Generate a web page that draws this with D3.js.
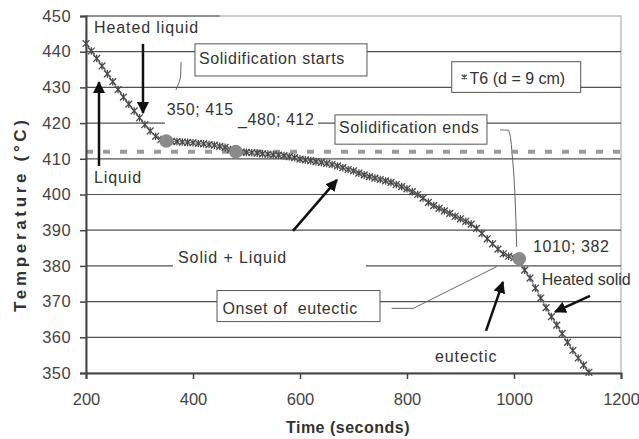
<!DOCTYPE html>
<html>
<head>
<meta charset="utf-8">
<script src="https://cdn.jsdelivr.net/npm/d3@7"></script>
<style>
  body { margin: 0; background: #fff; }
  text { font-family: "Liberation Sans", Arial, sans-serif; }
</style>
</head>
<body>
<svg id="chart" width="639" height="439"></svg>
<script>
// Cooling curve of thermocouple T6, time in seconds, temperature in °C
const timeSeconds = [
  200, 210, 220, 230, 240, 250, 260, 270, 280, 290,
  300, 310, 320, 330, 340, 350, 360, 370, 380, 390,
  400, 410, 420, 430, 440, 450, 460, 470, 480, 490,
  500, 510, 520, 530, 540, 550, 560, 570, 580, 590,
  600, 610, 620, 630, 640, 650, 660, 670, 680, 690,
  700, 710, 720, 730, 740, 750, 760, 770, 780, 790,
  800, 810, 820, 830, 840, 850, 860, 870, 880, 890,
  900, 910, 920, 930, 940, 950, 960, 970, 980, 990,
  1000, 1010, 1020, 1030, 1040, 1050, 1060, 1070, 1080, 1090,
  1100, 1110, 1120, 1130, 1140
];
const temperatureT6 = [
  442.3, 440.2, 438.1, 436.0, 433.8, 431.6, 429.4, 427.3, 425.3, 423.4,
  421.5, 419.6, 417.8, 416.3, 415.4, 415.0, 414.9, 414.8, 414.7, 414.6,
  414.5, 414.3, 414.2, 414.0, 413.8, 413.5, 413.2, 412.6, 412.0, 411.9,
  411.8, 411.7, 411.6, 411.4, 411.3, 411.1, 411.0, 410.9, 410.6, 410.3,
  409.9, 409.7, 409.5, 409.2, 409.0, 408.7, 408.4, 408.0, 407.5, 407.0,
  406.6, 406.0, 405.5, 405.0, 404.6, 404.2, 403.8, 403.4, 402.8, 402.2,
  401.6, 400.8, 400.0, 399.0, 397.8, 396.9, 396.1, 395.4, 394.7, 393.9,
  393.2, 392.5, 391.7, 390.5, 389.1, 387.6, 386.2, 384.7, 383.4, 382.7,
  382.3, 382.0, 378.8, 376.6, 373.8, 371.0, 368.3, 365.8, 363.4, 361.0,
  358.6, 356.3, 354.2, 352.2, 350.2
];
const seriesName = "T6 (d = 9 cm)";

// Marked points: start of solidification, plateau end, end of solidification
const keyTimes = [350, 480, 1010];
const keyTemps = [415, 412, 382];
const keyLabels = ["350; 415", "_480; 412", "1010; 382"];

// Liquidus level drawn as a dotted line
const liquidusTemp = 412;

const xTicks = [200, 400, 600, 800, 1000, 1200];
const yTicks = [350, 360, 370, 380, 390, 400, 410, 420, 430, 440, 450];

const width = 639, height = 439;
const svg = d3.select("#chart");
svg.append("rect").attr("width", width).attr("height", height).attr("fill", "#fff");

const x = d3.scaleLinear().domain([200, 1200]).range([86, 621]);
const y = d3.scaleLinear().domain([350, 450]).range([373, 16]);

const ink = "#333";
const grid = "#505050";
const spacing = "0.6px";

// plot frame
svg.append("rect")
  .attr("x", x(200)).attr("y", y(450))
  .attr("width", x(1200) - x(200)).attr("height", y(350) - y(450))
  .attr("fill", "none").attr("stroke", "#a0a0a0").attr("stroke-width", 1);

// horizontal gridlines
svg.append("g").selectAll("line")
  .data(yTicks.filter(v => v > 350 && v < 450))
  .join("line")
  .attr("x1", x(200)).attr("x2", x(1200))
  .attr("y1", d => y(d)).attr("y2", d => y(d))
  .attr("stroke", grid).attr("stroke-width", 1.2);
svg.append("line")
  .attr("x1", x(200)).attr("x2", x(450))
  .attr("y1", y(450)).attr("y2", y(450))
  .attr("stroke", grid).attr("stroke-width", 1.2);

// white backgrounds of labels, in data units
const backgrounds = [
  { t0: 347.7, t1: 480.4, v0: 425.5, v1: 418.2 },   // 350; 415
  { t0: 480.4, t1: 633.6, v0: 422.8, v1: 418.4 },   // 480; 412
  { t0: 362.6, t1: 723.4, v0: 384.0, v1: 379.2 }    // Solid + Liquid
];
svg.append("g").selectAll("rect")
  .data(backgrounds)
  .join("rect")
  .attr("x", d => x(d.t0)).attr("y", d => y(d.v0))
  .attr("width", d => x(d.t1) - x(d.t0)).attr("height", d => y(d.v1) - y(d.v0))
  .attr("fill", "#fff");

// boxed call-outs
const boxes = [
  { t0: 403.7, t1: 725.2, v0: 442.2, v1: 433.2, text: "Solidification starts", tt: 411, tv: 436.6 },
  { t0: 665.4, t1: 949.5, v0: 422.3, v1: 414.1, text: "Solidification ends", tt: 673, tv: 417.3 },
  { t0: 444.9, t1: 749.5, v0: 373.1, v1: 364.4, text: "Onset of  eutectic", tt: 455, tv: 366.6 }
];
const boxG = svg.append("g");
boxG.selectAll("rect")
  .data(boxes)
  .join("rect")
  .attr("x", d => x(d.t0)).attr("y", d => y(d.v0))
  .attr("width", d => x(d.t1) - x(d.t0)).attr("height", d => y(d.v1) - y(d.v0))
  .attr("fill", "#fff").attr("stroke", "#555").attr("stroke-width", 1);
boxG.selectAll("text")
  .data(boxes)
  .join("text")
  .attr("x", d => x(d.tt)).attr("y", d => y(d.tv))
  .attr("font-size", 16).attr("fill", ink)
  .attr("letter-spacing", spacing)
  .style("white-space", "pre")
  .text(d => d.text);

// legend
const legend = { t0: 883.6, t1: 1124.7, v0: 437.2, v1: 428.6 };
svg.append("rect")
  .attr("x", x(legend.t0)).attr("y", y(legend.v0))
  .attr("width", x(legend.t1) - x(legend.t0)).attr("height", y(legend.v1) - y(legend.v0))
  .attr("fill", "#fff").attr("stroke", "#555").attr("stroke-width", 1);

// leader lines
const leaders = [
  [[377.6, 437.1], [377.0, 433.5], [368.0, 429.3]],
  [[973.8, 418.1], [990.0, 418.0], [995.0, 414.0], [1005.0, 385.3]],
  [[771.4, 368.1], [811.8, 368.1], [967.7, 379.8]]
];
const leaderLine = d3.line().x(d => x(d[0])).y(d => y(d[1])).curve(d3.curveMonotoneY);
svg.append("g").selectAll("path")
  .data(leaders)
  .join("path")
  .attr("d", (d, i) => i === 2 ? d3.line().x(p => x(p[0])).y(p => y(p[1]))(d) : leaderLine(d))
  .attr("fill", "none").attr("stroke", "#666").attr("stroke-width", 1);

// liquidus dotted line
svg.append("line")
  .attr("x1", x(200)).attr("x2", x(1212))
  .attr("y1", y(liquidusTemp)).attr("y2", y(liquidusTemp))
  .attr("stroke", "#9a9a9a").attr("stroke-width", 4)
  .attr("stroke-dasharray", "7,10");

// axes
const yAxis = svg.append("g")
  .attr("transform", `translate(${x(200)},0)`)
  .call(d3.axisLeft(y).tickValues(yTicks).tickSize(6).tickPadding(9).tickFormat(d3.format("d")));
const xAxis = svg.append("g")
  .attr("transform", `translate(0,${y(350)})`)
  .call(d3.axisBottom(x).tickValues(xTicks).tickSize(6).tickPadding(14).tickFormat(d3.format("d")));
[yAxis, xAxis].forEach(g => {
  g.select(".domain").attr("stroke", "#444").attr("stroke-width", 2);
  g.selectAll(".tick line").attr("stroke", "#444").attr("stroke-width", 1.5);
  g.selectAll(".tick text")
    .attr("font-family", "'Liberation Sans', Arial, sans-serif")
    .attr("font-size", 16.5).attr("fill", "#444");
});
yAxis.selectAll(".tick text").attr("letter-spacing", "0.4px");

// the cooling curve
const series = timeSeconds.map((t, i) => ({ t, v: temperatureT6[i] }));
svg.append("path")
  .datum(series)
  .attr("d", d3.line().x(d => x(d.t)).y(d => y(d.v)))
  .attr("fill", "none").attr("stroke", "#808080").attr("stroke-width", 1.2);

const starPath = "M-3.4,-3.4L3.4,3.4M-3.4,3.4L3.4,-3.4M0,-3.8L0,3.8";
svg.append("g").selectAll("path")
  .data(series)
  .join("path")
  .attr("transform", d => `translate(${x(d.t)},${y(d.v)})`)
  .attr("d", starPath)
  .attr("fill", "none").attr("stroke", "#4a4a4a").attr("stroke-width", 1.3);

// key points
svg.append("g").selectAll("circle")
  .data(keyTimes)
  .join("circle")
  .attr("cx", d => x(d)).attr("cy", (d, i) => y(keyTemps[i]))
  .attr("r", 6.8).attr("fill", "#8a8a8a");

// key point labels
const keyLabelPos = [[350.8, 422.3], [484, 419.6], [1035.5, 384.0]];
svg.append("g").selectAll("text")
  .data(keyLabels)
  .join("text")
  .attr("x", (d, i) => x(keyLabelPos[i][0])).attr("y", (d, i) => y(keyLabelPos[i][1]))
  .attr("font-size", 16).attr("fill", ink)
  .attr("letter-spacing", spacing)
  .text(d => d);

// legend entry
svg.append("path")
  .attr("transform", `translate(${x(907)},${y(432.9)})`)
  .attr("d", "M-2.5,-2L2.5,2M-2.5,2L2.5,-2M0,-2.5L0,2.5")
  .attr("fill", "none").attr("stroke", "#444").attr("stroke-width", 1.2);
svg.append("text")
  .attr("x", x(917)).attr("y", y(430.9))
  .attr("font-size", 16).attr("fill", ink)
  .text(seriesName);

// free annotations; the last one sits close to the right edge, so it is set tighter
const notes = [
  { text: "Heated liquid", t: 215, v: 445.2, ls: "0.9px" },
  { text: "Liquid", t: 215, v: 403.2, ls: "0.9px" },
  { text: "Solid + Liquid", t: 372, v: 380.7, ls: "0.9px" },
  { text: "eutectic", t: 852.3, v: 353.2, ls: "0.9px" },
  { text: "Heated solid", t: 1051.8, v: 374.6, ls: "0px" }
];
svg.append("g").selectAll("text")
  .data(notes)
  .join("text")
  .attr("x", d => x(d.t)).attr("y", d => y(d.v))
  .attr("font-size", 16).attr("fill", ink)
  .attr("letter-spacing", d => d.ls)
  .text(d => d.text);

// arrows
svg.append("defs").append("marker")
  .attr("id", "head")
  .attr("markerUnits", "userSpaceOnUse")
  .attr("viewBox", "0 0 12 12")
  .attr("markerWidth", 12).attr("markerHeight", 12)
  .attr("refX", 11).attr("refY", 6)
  .attr("orient", "auto")
  .append("path").attr("d", "M0,0L12,6L0,12Z").attr("fill", "#111");

const arrows = [
  { from: [306.5, 442.2], to: [306.5, 422.8] },
  { from: [224.3, 408.0], to: [224.3, 431.5] },
  { from: [586.9, 389.8], to: [669.2, 404.1] },
  { from: [947.7, 361.8], to: [979.4, 375.5] },
  { from: [1142.0, 371.6], to: [1076.6, 367.1] }
];
svg.append("g").selectAll("line")
  .data(arrows)
  .join("line")
  .attr("x1", d => x(d.from[0])).attr("y1", d => y(d.from[1]))
  .attr("x2", d => x(d.to[0])).attr("y2", d => y(d.to[1]))
  .attr("stroke", "#111").attr("stroke-width", 2.5)
  .attr("marker-end", "url(#head)");

// axis titles
svg.append("text")
  .attr("transform", `translate(26,216) rotate(-90)`)
  .attr("text-anchor", "middle")
  .attr("font-size", 17).attr("font-weight", "bold").attr("fill", ink)
  .attr("textLength", 192).attr("lengthAdjust", "spacing")
  .text("Temperature (°C)");
svg.append("text")
  .attr("x", 348).attr("y", 433)
  .attr("text-anchor", "middle")
  .attr("font-size", 16).attr("font-weight", "bold").attr("fill", ink)
  .attr("letter-spacing", "0.5px")
  .text("Time (seconds)");
</script>
</body>
</html>
